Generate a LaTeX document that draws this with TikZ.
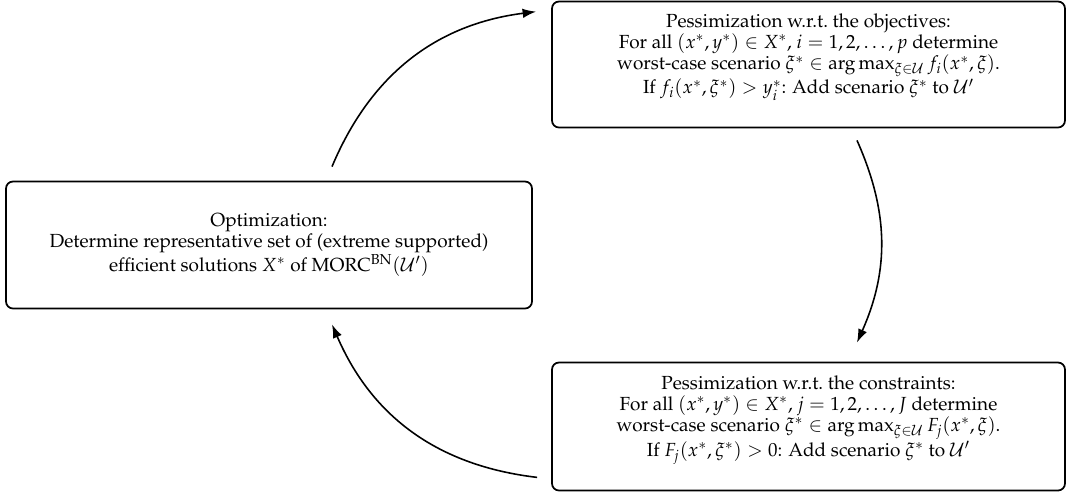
\documentclass[tikz,border=0pt]{standalone}
\usepackage[T1]{fontenc}
\usepackage{amsmath, amssymb}
\usepackage{mathpazo}
\usetikzlibrary{arrows.meta}

\begin{document}
\begin{tikzpicture}[box/.style={draw, line width=1pt, rounded corners=4pt, align=center, font=\fontsize{10.8}{12}\selectfont},
  flow/.style={-{Latex[length=2.7mm,width=1.9mm]}, line width=0.9pt}]
  \useasboundingbox (0,0) rectangle (21.32,-9.86);
  % Nodos
  \node[box, minimum width=10.52cm, minimum height=2.54cm] (opt) at (5.38,-4.9)
    {Optimization:\\
     Determine representative set of (extreme supported)\\
     efficient solutions $X^*$ of MORC$^{\text{BN}}(\mathcal{U}')$};
  \node[box, minimum width=10.26cm, minimum height=2.52cm] (obj) at (16.17,-1.29)
    {Pessimization w.r.t.\ the objectives:\\
     For all $(x^*,y^*)\in X^*$, $i=1,2,\dots,p$ determine\\
     worst-case scenario $\xi^*\in\arg\max_{\xi\in\mathcal{U}} f_i(x^*,\xi)$.\\
     If $f_i(x^*,\xi^*)>y_i^*$: Add scenario $\xi^*$ to $\mathcal{U}'$\\ \mbox{}};
  \node[box, minimum width=10.26cm, minimum height=2.56cm] (con) at (16.17,-8.53)
    {Pessimization w.r.t.\ the constraints:\\
     For all $(x^*,y^*)\in X^*$, $j=1,2,\dots,J$ determine\\
     worst-case scenario $\xi^*\in\arg\max_{\xi\in\mathcal{U}} F_j(x^*,\xi)$.\\
     If $F_j(x^*,\xi^*)>0$: Add scenario $\xi^*$ to $\mathcal{U}'$\\ \mbox{}};

  % Extremos de las flechas
  \coordinate (optout) at ([shift={(1.26,0.28)}]opt.north);
  \coordinate (objin)  at ([shift={(-0.3,-0.22)}]obj.north west);
  \coordinate (objout) at ([shift={(0.97,-0.24)}]obj.south);
  \coordinate (conin)  at ([shift={(0.97,0.38)}]con.north);
  \coordinate (conout) at ([shift={(-0.28,0.28)}]con.south west);
  \coordinate (optin)  at ([shift={(1.26,-0.30)}]opt.south);

  % Flechas
  \draw[flow] (optout) to[bend left=30] (objin);
  \draw[flow] (objout) to[bend left=24] (conin);
  \draw[flow] (conout) to[bend left=30] (optin);
\end{tikzpicture}
\end{document}
